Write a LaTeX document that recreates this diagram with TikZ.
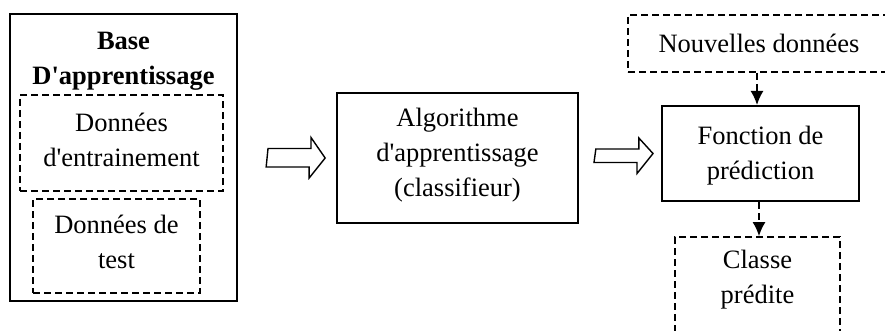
\documentclass[tikz,border=0pt]{standalone}
\usepackage{fontspec}
\setmainfont{Liberation Serif}
\usetikzlibrary{calc,arrows.meta}
\begin{document}
\begin{tikzpicture}[x=1pt,y=-1pt,
  txt/.style={font=\fontsize{26.5}{35}\selectfont, align=center, inner sep=0pt},
  btxt/.style={font=\fontsize{26.5}{35}\selectfont\bfseries, align=center, inner sep=0pt},
  solidbox/.style={draw, line width=2pt, inner sep=0pt},
  dashbox/.style={draw, line width=1.7pt, dash pattern=on 7pt off 4pt, inner sep=0pt},
  blockarrow/.style={draw, line width=1.4pt, line join=miter},
  dasharrow/.style={draw, line width=1.7pt, dash pattern=on 7pt off 4pt, -{Latex[length=14pt,width=13pt]}}
]
\useasboundingbox (0,0) rectangle (885,331);
\clip (0,0) rectangle (885,331);
\fill[white] (0,0) rectangle (885,331);

% left block
\node[solidbox, minimum width=227pt, minimum height=287pt] (base) at (123.5,157.5) {};
\node[btxt] (titre) at (123.5,61) {Base\\D\textquotesingle apprentissage};
\node[dashbox, minimum width=203pt, minimum height=96pt] (train) at (121.5,143) {};
\node[txt] (traint) at (121.5,140) {Données\\d\textquotesingle entrainement};
\node[dashbox, minimum width=167pt, minimum height=94pt] (test) at (116.5,246) {};
\node[txt] (testt) at (116.5,242) {Données de\\test};

% algorithm
\node[solidbox, line width=1.7pt, minimum width=241pt, minimum height=130pt] (algo) at (457.5,158) {};
\node[txt] (algot) at (457.5,155) {Algorithme\\d\textquotesingle apprentissage\\(classifieur)};

% prediction function
\node[solidbox, minimum width=197pt, minimum height=95pt] (fonc) at (760.5,153.5) {};
\node[txt] (fonct) at (760.5,156) {Fonction de\\prédiction};

% new data
\node[dashbox, minimum width=262pt, minimum height=57pt] (nouv) at (759,43.5) {};
\node[txt] (nouvt) at (759,43.5) {Nouvelles données};

% predicted class
\node[dashbox, minimum width=165pt, minimum height=99pt] (classe) at (757.5,286.5) {};
\node[txt] (classet) at (757.5,280) {Classe\\prédite};

% block arrows
\coordinate (a1s) at ($(base.east)+(30,0)$);
\coordinate (a1t) at ($(algo.west)+(-11,0)$);
\draw[blockarrow] (a1s) ++(0,-9) -- ++(43,0) -- ++(0,-11) -- (a1t) -- ++(-16,20) -- ++(0,-11) -- ++(-43,0) -- cycle;
\coordinate (a2s) at ($(algo.east)+(17,0)$);
\coordinate (a2t) at ($(fonc.west)+(-8,0)$);
\draw[blockarrow] (a2s) ++(0,-9) -- ++(43,0) -- ++(0,-11) -- (a2t) -- ++(-16,20) -- ++(0,-11) -- ++(-43,0) -- cycle;

% dashed arrows
\draw[dasharrow] ($(nouv.south)+(-2,0)$) -- ($(nouv.south |- fonc.north)+(-2,0)$);
\draw[dasharrow] ($(fonc.south)+(-1.5,0)$) -- ($(fonc.south |- classe.north)+(-1.5,0)$);
\end{tikzpicture}
\end{document}
